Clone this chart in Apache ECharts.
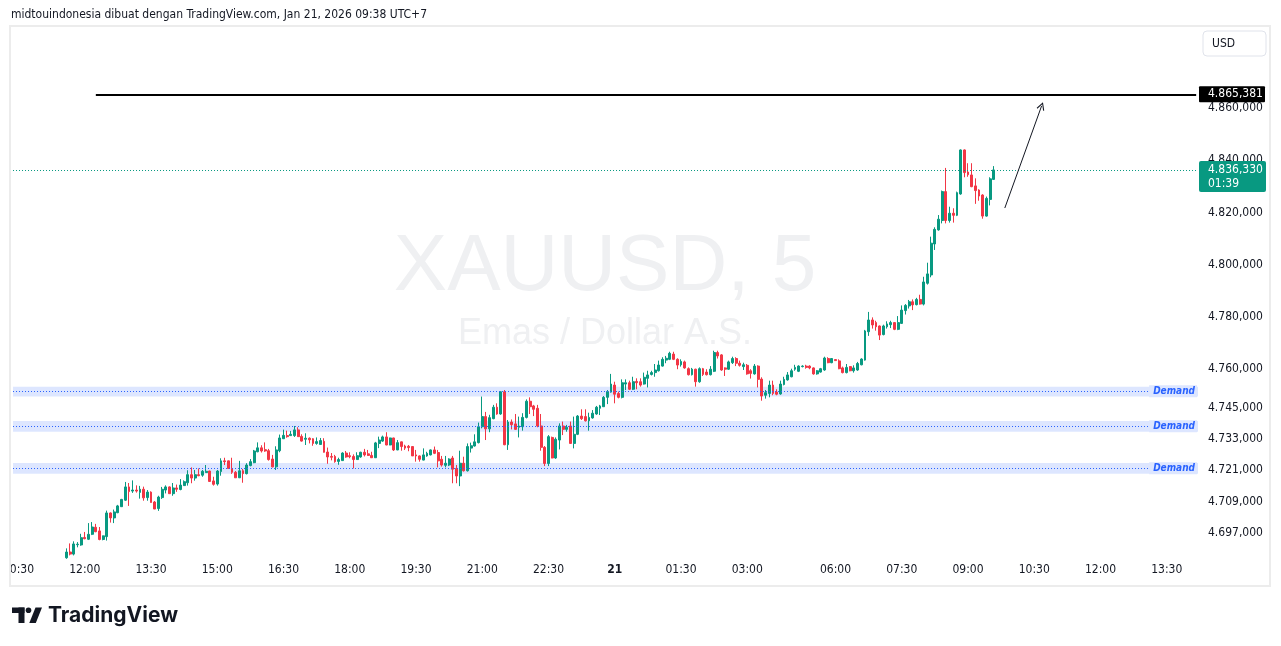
<!DOCTYPE html>
<html>
<head>
<meta charset="utf-8">
<title>XAUUSD, 5</title>
<script src="https://cdn.jsdelivr.net/npm/echarts@6.0.0/dist/echarts.min.js"></script>
<style>
  html, body { margin: 0; padding: 0; background: #fff; }
  #chart { width: 1281px; height: 646px; }
</style>
</head>
<body>
<div id="chart"></div>
<script>
  // XAUUSD 5m, 20 Jan 11:35 -> 21 Jan 09:35 (UTC+7), daily break 05:00-06:00
  var firstBar = '20 11:35'

  var opens = [
    4687.4, 4689.6, 4688.8, 4692.4, 4692.3, 4695.2, 4694.5, 4696.4, 4699.1, 4697.7,
    4694.4, 4695.5, 4704.6, 4702.7, 4704.7, 4707.0, 4709.5, 4714.6, 4713.0, 4713.4,
    4712.5, 4713.7, 4710.5, 4712.6, 4708.8, 4706.3, 4710.5, 4713.4, 4714.6, 4712.0,
    4714.2, 4713.6, 4715.1, 4716.2, 4719.3, 4718.0, 4719.3, 4719.1, 4720.1, 4720.7,
    4716.9, 4715.7, 4720.5, 4724.6, 4724.6, 4721.7, 4720.2, 4718.1, 4720.8, 4719.7,
    4722.8, 4723.9, 4728.1, 4729.6, 4728.9, 4728.5, 4725.3, 4722.3, 4728.5, 4733.1,
    4734.3, 4734.3, 4734.3, 4736.5, 4734.0, 4732.9, 4733.3, 4733.1, 4731.3, 4730.9,
    4732.1, 4728.0, 4726.3, 4726.3, 4724.4, 4724.7, 4727.6, 4726.6, 4726.3, 4725.1,
    4726.1, 4727.9, 4727.3, 4726.7, 4725.8, 4731.3, 4732.2, 4733.8, 4730.7, 4733.4,
    4728.8, 4731.9, 4730.3, 4730.2, 4730.1, 4726.9, 4726.5, 4724.9, 4726.5, 4726.9,
    4728.8, 4727.8, 4725.2, 4722.9, 4723.0, 4725.7, 4721.7, 4718.8, 4723.7, 4720.8,
    4729.5, 4730.3, 4731.6, 4737.7, 4741.6, 4736.9, 4740.8, 4745.2, 4742.6, 4751.1,
    4730.8, 4739.5, 4738.8, 4737.5, 4737.7, 4741.3, 4747.5, 4745.7, 4744.8, 4738.0,
    4729.8, 4723.6, 4733.6, 4725.7, 4732.6, 4738.0, 4736.7, 4738.0, 4731.3, 4734.8,
    4741.8, 4741.6, 4740.0, 4741.1, 4742.6, 4744.8, 4745.4, 4749.0, 4751.0, 4753.7,
    4750.5, 4749.0, 4754.1, 4754.6, 4752.1, 4755.1, 4755.0, 4754.1, 4756.3, 4757.8,
    4758.5, 4759.2, 4761.0, 4763.3, 4763.6, 4765.6, 4763.6, 4761.5, 4762.6, 4760.0,
    4757.7, 4759.8, 4755.0, 4760.0, 4758.7, 4757.7, 4759.0, 4766.2, 4765.3, 4760.3,
    4759.8, 4762.3, 4763.9, 4762.1, 4760.8, 4761.3, 4759.2, 4758.0, 4761.0, 4756.0,
    4749.8, 4750.5, 4753.7, 4751.0, 4750.3, 4753.9, 4755.7, 4756.9, 4759.8, 4759.0,
    4760.8, 4761.0, 4761.0, 4760.3, 4758.0, 4758.7, 4759.5, 4763.9, 4762.3, 4763.5,
    4763.0, 4760.3, 4758.5, 4760.8, 4759.2, 4759.5, 4761.5, 4763.3, 4774.2, 4778.7,
    4777.7, 4776.4, 4773.1, 4776.1, 4776.9, 4777.7, 4775.1, 4777.4, 4782.3, 4784.1,
    4785.7, 4784.6, 4786.6, 4784.8, 4792.8, 4796.0, 4807.9, 4813.3, 4816.9, 4828.0,
    4816.9, 4819.7, 4818.9, 4827.1, 4844.0, 4835.5, 4834.4, 4830.2, 4828.6, 4826.7,
    4818.6, 4825.0, 4832.7
  ]
  var closes = [
    4689.6, 4688.8, 4692.7, 4692.6, 4695.1, 4694.7, 4696.4, 4699.2, 4697.4, 4694.4,
    4695.8, 4704.6, 4702.7, 4705.0, 4707.3, 4709.8, 4714.6, 4712.8, 4713.4, 4713.0,
    4713.7, 4710.4, 4712.6, 4708.6, 4706.1, 4710.7, 4713.7, 4714.6, 4712.0, 4714.2,
    4713.7, 4715.3, 4716.6, 4719.3, 4718.0, 4719.3, 4718.9, 4720.6, 4720.6, 4716.7,
    4715.6, 4720.7, 4724.6, 4724.3, 4721.7, 4720.2, 4718.1, 4720.8, 4719.7, 4723.0,
    4724.3, 4728.4, 4729.6, 4728.4, 4728.4, 4725.1, 4722.3, 4728.8, 4733.4, 4734.4,
    4733.9, 4734.8, 4736.5, 4733.9, 4732.2, 4733.3, 4732.7, 4731.3, 4732.0, 4732.4,
    4727.9, 4726.1, 4726.0, 4724.3, 4725.1, 4727.6, 4726.1, 4726.2, 4725.1, 4726.6,
    4727.9, 4726.9, 4726.7, 4725.8, 4731.5, 4732.6, 4733.8, 4730.7, 4733.4, 4728.8,
    4731.6, 4730.1, 4729.5, 4729.7, 4726.5, 4726.5, 4725.2, 4726.9, 4727.5, 4728.8,
    4727.5, 4724.6, 4723.0, 4723.7, 4725.3, 4721.4, 4718.8, 4723.7, 4720.8, 4730.1,
    4730.4, 4731.9, 4737.7, 4741.6, 4736.9, 4741.2, 4745.2, 4742.6, 4751.1, 4730.8,
    4739.5, 4738.5, 4736.7, 4738.0, 4741.3, 4747.5, 4745.4, 4744.4, 4738.0, 4729.8,
    4723.6, 4733.9, 4725.7, 4732.9, 4738.0, 4736.7, 4737.5, 4731.3, 4734.8, 4741.8,
    4740.8, 4740.0, 4741.3, 4742.9, 4745.2, 4745.7, 4749.0, 4751.2, 4754.1, 4750.2,
    4749.0, 4754.6, 4754.6, 4752.1, 4755.0, 4754.6, 4753.7, 4756.7, 4757.6, 4758.5,
    4759.5, 4761.4, 4763.6, 4764.0, 4765.9, 4763.6, 4761.4, 4762.8, 4760.3, 4757.7,
    4759.8, 4755.0, 4760.0, 4757.8, 4757.7, 4759.8, 4766.2, 4764.9, 4759.5, 4759.8,
    4762.6, 4763.9, 4762.1, 4761.3, 4761.5, 4758.0, 4758.2, 4761.0, 4755.9, 4749.5,
    4750.8, 4753.7, 4750.5, 4750.2, 4754.1, 4755.9, 4757.6, 4759.2, 4760.5, 4761.0,
    4761.0, 4760.5, 4760.3, 4758.0, 4759.2, 4760.0, 4764.1, 4762.3, 4763.9, 4763.1,
    4760.0, 4758.5, 4760.5, 4759.2, 4760.3, 4762.0, 4763.7, 4774.5, 4778.7, 4776.8,
    4776.1, 4772.9, 4776.4, 4777.2, 4777.7, 4775.1, 4777.7, 4782.5, 4784.3, 4785.7,
    4784.5, 4786.6, 4784.8, 4793.3, 4796.4, 4808.2, 4813.5, 4817.4, 4828.0, 4816.9,
    4819.7, 4818.9, 4827.6, 4844.0, 4835.3, 4834.5, 4829.9, 4828.4, 4826.3, 4818.6,
    4825.4, 4832.9, 4836.33
  ]
  var highs = [
    4691.0, 4692.9, 4693.7, 4693.4, 4696.6, 4697.3, 4700.7, 4701.1, 4700.4, 4699.2,
    4695.9, 4705.5, 4704.8, 4705.9, 4707.7, 4710.0, 4716.5, 4716.1, 4717.1, 4715.2,
    4715.0, 4714.7, 4713.4, 4712.9, 4709.2, 4711.2, 4714.6, 4715.2, 4714.8, 4716.1,
    4715.5, 4717.6, 4717.1, 4721.0, 4722.1, 4721.1, 4721.7, 4721.1, 4723.0, 4720.8,
    4718.5, 4721.1, 4725.6, 4725.8, 4724.7, 4725.8, 4720.7, 4724.6, 4721.5, 4723.7,
    4725.3, 4728.8, 4731.7, 4730.6, 4731.7, 4729.2, 4726.9, 4730.2, 4734.7, 4736.6,
    4736.2, 4736.1, 4738.0, 4737.5, 4734.8, 4735.2, 4733.6, 4733.3, 4733.6, 4733.4,
    4733.3, 4729.7, 4727.6, 4726.9, 4725.8, 4727.9, 4728.4, 4727.9, 4727.1, 4727.9,
    4728.1, 4729.2, 4728.8, 4728.1, 4731.9, 4733.9, 4734.3, 4735.6, 4733.5, 4733.5,
    4732.6, 4732.0, 4730.8, 4730.7, 4730.2, 4728.8, 4726.7, 4729.4, 4728.1, 4729.0,
    4730.1, 4728.8, 4726.5, 4726.5, 4725.6, 4726.5, 4723.0, 4728.5, 4726.2, 4731.3,
    4731.6, 4734.8, 4739.3, 4749.3, 4743.4, 4742.3, 4746.1, 4746.7, 4751.3, 4751.8,
    4740.3, 4740.5, 4742.6, 4741.6, 4742.9, 4748.2, 4749.0, 4746.1, 4746.1, 4742.6,
    4730.3, 4734.5, 4733.9, 4733.6, 4739.0, 4739.7, 4738.4, 4739.7, 4741.6, 4742.2,
    4744.4, 4744.4, 4743.1, 4744.1, 4745.7, 4746.1, 4749.5, 4751.8, 4758.0, 4755.0,
    4751.2, 4755.9, 4755.9, 4755.4, 4756.9, 4756.3, 4756.3, 4758.5, 4759.2, 4759.2,
    4761.8, 4763.1, 4764.4, 4764.9, 4766.5, 4766.5, 4764.0, 4763.6, 4763.1, 4760.5,
    4760.3, 4760.0, 4760.5, 4760.3, 4759.8, 4761.0, 4766.9, 4766.9, 4765.6, 4760.5,
    4763.1, 4764.6, 4764.4, 4763.1, 4762.3, 4761.8, 4759.8, 4761.8, 4761.3, 4756.7,
    4751.8, 4755.4, 4755.4, 4752.1, 4755.4, 4756.9, 4758.7, 4760.0, 4761.5, 4761.3,
    4761.3, 4761.5, 4761.3, 4760.5, 4759.5, 4760.3, 4764.6, 4764.4, 4764.1, 4763.6,
    4763.6, 4760.8, 4761.8, 4761.0, 4761.3, 4762.6, 4764.0, 4774.9, 4781.8, 4779.7,
    4778.4, 4776.6, 4776.9, 4778.2, 4778.4, 4777.9, 4780.2, 4784.3, 4784.8, 4786.4,
    4786.6, 4787.2, 4788.4, 4795.3, 4800.7, 4810.7, 4814.3, 4819.0, 4828.4, 4837.1,
    4822.2, 4821.6, 4828.0, 4844.2, 4844.2, 4838.9, 4838.9, 4833.1, 4828.9, 4827.0,
    4826.1, 4833.5, 4837.8
  ]
  var lows = [
    4687.0, 4688.3, 4688.3, 4691.4, 4692.0, 4694.5, 4694.2, 4696.1, 4697.2, 4694.1,
    4694.1, 4694.0, 4700.9, 4700.7, 4704.5, 4706.9, 4709.2, 4707.3, 4712.3, 4712.4,
    4710.1, 4709.3, 4709.3, 4708.6, 4706.1, 4705.4, 4710.0, 4712.1, 4712.0, 4711.2,
    4712.7, 4713.3, 4715.0, 4715.1, 4716.0, 4717.0, 4718.7, 4718.5, 4720.1, 4716.5,
    4715.1, 4715.1, 4718.9, 4723.0, 4721.7, 4719.6, 4718.1, 4718.0, 4716.2, 4719.4,
    4722.5, 4723.7, 4727.9, 4727.8, 4728.1, 4724.7, 4722.1, 4721.1, 4727.9, 4733.0,
    4733.5, 4734.2, 4733.8, 4733.8, 4732.0, 4730.7, 4731.3, 4730.4, 4730.8, 4730.8,
    4727.8, 4723.5, 4724.8, 4723.9, 4723.1, 4724.6, 4725.8, 4725.6, 4721.7, 4725.1,
    4725.8, 4726.3, 4726.5, 4725.7, 4725.7, 4729.5, 4731.9, 4730.6, 4730.6, 4728.4,
    4728.7, 4728.5, 4728.8, 4728.3, 4726.5, 4724.3, 4724.3, 4724.8, 4726.2, 4726.7,
    4727.2, 4722.1, 4722.4, 4722.1, 4722.6, 4716.0, 4716.0, 4714.9, 4720.5, 4720.5,
    4727.8, 4730.1, 4731.3, 4737.1, 4732.6, 4735.6, 4740.6, 4742.3, 4742.3, 4730.6,
    4728.8, 4736.7, 4736.5, 4733.6, 4736.2, 4740.9, 4742.6, 4741.8, 4737.5, 4728.5,
    4722.6, 4722.6, 4725.6, 4725.4, 4729.0, 4734.5, 4735.8, 4731.1, 4729.4, 4734.5,
    4740.3, 4739.7, 4736.2, 4740.8, 4742.3, 4742.2, 4745.4, 4746.4, 4750.8, 4746.7,
    4748.6, 4748.6, 4751.8, 4751.8, 4751.8, 4752.1, 4753.1, 4753.9, 4752.8, 4757.4,
    4756.9, 4758.9, 4760.8, 4762.1, 4763.3, 4763.3, 4759.8, 4760.8, 4760.0, 4757.4,
    4757.4, 4753.1, 4754.6, 4757.2, 4757.4, 4757.4, 4758.7, 4763.9, 4759.2, 4757.2,
    4759.5, 4761.8, 4761.0, 4760.8, 4759.5, 4757.7, 4756.2, 4757.7, 4752.8, 4747.7,
    4748.5, 4749.0, 4749.8, 4749.8, 4750.0, 4753.6, 4755.4, 4756.7, 4759.2, 4758.7,
    4760.5, 4760.0, 4759.8, 4757.7, 4757.7, 4758.5, 4759.2, 4762.1, 4762.1, 4763.0,
    4759.8, 4758.2, 4758.2, 4759.0, 4758.5, 4759.2, 4761.3, 4763.1, 4772.6, 4775.4,
    4774.6, 4771.0, 4772.8, 4775.4, 4775.6, 4774.8, 4774.8, 4777.2, 4780.8, 4783.1,
    4782.5, 4784.3, 4784.6, 4784.3, 4792.3, 4795.1, 4805.6, 4813.0, 4815.8, 4815.8,
    4816.1, 4816.1, 4818.6, 4826.8, 4833.5, 4833.7, 4829.7, 4823.3, 4824.5, 4817.6,
    4818.4, 4822.7, 4832.5
  ]

  var yTicks = [4697, 4709, 4721, 4733, 4745, 4760, 4780, 4800, 4820, 4840, 4860]
  var timeLabels = ['10:30', '12:00', '13:30', '15:00', '16:30', '18:00', '19:30', '21:00',
    '22:30', '00:00', '01:30', '03:00', '06:00', '07:30', '09:00']
  // demand zones: [bottom, middle, top]
  var demandZones = [[4719.7, 4721.8, 4723.8], [4735.8, 4737.9, 4739.9], [4749.3, 4751.3, 4753.1]]
  var targetPrice = 4865.381
  var targetFrom = '20 12:15'
  var lastPrice = 4836.33
  var countdown = '01:39'
  var arrowFrom = ['21 09:50', 4821.7]
  var arrowTo = ['21 10:40', 4860.9]

  // time axis: 5 minute slots from 20 Jan 10:25, skipping the 05:00-06:00 break
  var cats = []
  function pad(n) { return (n < 10 ? '0' : '') + n }
  for (var i = 0; i < 322; i++) {
    var m = 10 * 60 + 25 + 5 * i
    if (i >= 223) m += 60
    var day = m >= 1440 ? 21 : 20
    m = m % 1440
    cats.push(day + ' ' + pad(Math.floor(m / 60)) + ':' + pad(m % 60))
  }

  var candles = cats.map(function () { return '-' })
  var start = cats.indexOf(firstBar)
  for (var k = 0; k < opens.length; k++) {
    candles[start + k] = [opens[k], closes[k], lows[k], highs[k]]
  }

  // 4745 -> "4.745,000"
  function idr(v) {
    var s = Number(v).toFixed(3).split('.')
    return s[0].replace(/\B(?=(\d{3})+(?!\d))/g, '.') + ',' + s[1]
  }

  var font = '"DejaVu Sans Condensed", "Liberation Sans", sans-serif'
  var up = '#089981'
  var down = '#f23645'
  var blue = '#2962ff'

  var lines = []
  demandZones.forEach(function (z) {
    lines.push({ yAxis: z[1], lineStyle: { color: blue, type: [1, 2], width: 1 } })
  })
  lines.push({ yAxis: lastPrice, lineStyle: { color: up, type: [1, 2], width: 1 } })
  lines.push([
    { coord: [targetFrom, targetPrice], lineStyle: { color: '#000', type: 'solid', width: 2 } },
    { coord: [cats[cats.length - 1], targetPrice] }
  ])
  lines.push([
    { coord: arrowFrom, symbol: 'none', lineStyle: { color: '#131722', type: 'solid', width: 1 } },
    { coord: arrowTo, symbol: 'path://M5,0 L10,9 L8.8,9.8 L5,2.6 L1.2,9.8 L0,9 Z', symbolSize: [8, 8] }
  ])

  var chart = echarts.init(document.getElementById('chart'))
  chart.setOption({
    animation: false,
    backgroundColor: '#ffffff',
    textStyle: { fontFamily: font },
    grid: { left: 11, right: 83, top: 26, bottom: 88 },
    xAxis: {
      type: 'category',
      data: cats,
      boundaryGap: true,
      axisLine: { show: false },
      axisTick: { show: false },
      splitLine: { show: false },
      axisLabel: {
        interval: function (idx, val) { return timeLabels.indexOf(val.slice(3)) > -1 },
        formatter: function (val) {
          var t = val.slice(3)
          return t === '00:00' ? '{d|' + val.slice(0, 2) + '}' : t
        },
        color: '#131722',
        fontSize: 12,
        fontFamily: font,
        margin: 6,
        rich: { d: { fontWeight: 'bold', fontSize: 12, color: '#131722', fontFamily: font } }
      }
    },
    yAxis: {
      type: 'value',
      position: 'right',
      min: 4687.3,
      max: 4891.6,
      axisLine: { show: false },
      axisTick: { show: false },
      splitLine: { show: false },
      axisLabel: {
        customValues: yTicks,
        formatter: idr,
        color: '#131722',
        fontSize: 12,
        fontFamily: font,
        margin: 10
      }
    },
    series: [{
      type: 'candlestick',
      data: candles,
      barWidth: 2.4,
      itemStyle: {
        color: up,
        color0: down,
        borderColor: up,
        borderColor0: down,
        borderWidth: 1
      },
      markArea: {
        silent: true,
        itemStyle: { color: 'rgba(41,98,255,0.16)' },
        data: demandZones.map(function (z) { return [{ yAxis: z[0] }, { yAxis: z[2] }] })
      },
      markLine: {
        silent: true,
        symbol: 'none',
        label: { show: false },
        data: lines
      }
    }]
  })

  var py = function (v) { return chart.convertToPixel({ yAxisIndex: 0 }, v) }
  function txt(x, y, text, f, fill, align, extra) {
    var st = {
      text: text, x: x, y: y, font: f, fill: fill,
      align: align || 'left', textAlign: align || 'left',
      verticalAlign: 'middle', textVerticalAlign: 'middle'
    }
    for (var key in (extra || {})) st[key] = extra[key]
    return { type: 'text', silent: true, z: 30, style: st }
  }

  var g = []
  // watermark behind the candles
  var wm1 = txt(605, 268, 'XAUUSD, 5', '80px "Liberation Sans", Arial, sans-serif', '#eff0f2', 'center')
  var wm2 = txt(605, 334, 'Emas / Dollar A.S.', '36px "Liberation Sans", Arial, sans-serif', '#eff0f2', 'center')
  wm1.z = 0
  wm2.z = 0
  g.push(wm1, wm2)

  g.push(txt(11, 15, 'midtouindonesia dibuat dengan TradingView.com, Jan 21, 2026 09:38 UTC+7',
    '12px ' + font, '#131722'))
  // cut the first time label at the panel edge
  g.push({ type: 'rect', silent: true, z: 25, shape: { x: 0, y: 559, width: 10, height: 26 }, style: { fill: '#fff' } })
  g.push({ type: 'rect', silent: true, z: 26, shape: { x: 10, y: 26, width: 1260, height: 560 },
    style: { fill: 'none', stroke: '#ececec', lineWidth: 2 } })

  // USD button
  g.push({ type: 'rect', silent: true, z: 30, shape: { x: 1203, y: 31, width: 63, height: 25, r: 4 },
    style: { fill: '#fff', stroke: '#e0e3eb', lineWidth: 1 } })
  g.push(txt(1212, 44, 'USD', '12px ' + font, '#131722'))

  // demand labels
  demandZones.forEach(function (z) {
    g.push(txt(1197, py(z[1]), 'Demand', 'italic bold 10px ' + font, blue, 'right',
      { backgroundColor: '#dde6ff', padding: [1, 2, 1, 4] }))
  })

  // price tags on the axis
  var yt = py(targetPrice)
  g.push({ type: 'rect', silent: true, z: 30, shape: { x: 1199, y: yt - 8, width: 66, height: 16, r: 1 }, style: { fill: '#000' } })
  g.push(txt(1208, yt, idr(targetPrice), '12px ' + font, '#fff'))
  var yl = py(lastPrice)
  g.push({ type: 'rect', silent: true, z: 30, shape: { x: 1199, y: yl - 9, width: 67, height: 31, r: 2 }, style: { fill: up } })
  g.push(txt(1208, yl, idr(lastPrice), '12px ' + font, '#fff'))
  g.push(txt(1208, yl + 14, countdown, '12px ' + font, '#fff'))

  // TradingView logo
  g.push({ type: 'rect', silent: true, z: 30, shape: { x: 12, y: 607.5, width: 12.5, height: 5.5 }, style: { fill: '#131722' } })
  g.push({ type: 'rect', silent: true, z: 30, shape: { x: 18.5, y: 607.5, width: 6, height: 15.5 }, style: { fill: '#131722' } })
  g.push({ type: 'circle', silent: true, z: 30, shape: { cx: 28.5, cy: 610.3, r: 2.8 }, style: { fill: '#131722' } })
  g.push({ type: 'polygon', silent: true, z: 30, shape: { points: [[35.5, 607.5], [42, 607.5], [35.8, 623], [29.3, 623]] }, style: { fill: '#131722' } })
  g.push(txt(48, 615.5, 'TradingView', 'bold 21px Inter, "Liberation Sans", sans-serif', '#131722'))

  chart.setOption({ graphic: g })
</script>
</body>
</html>
